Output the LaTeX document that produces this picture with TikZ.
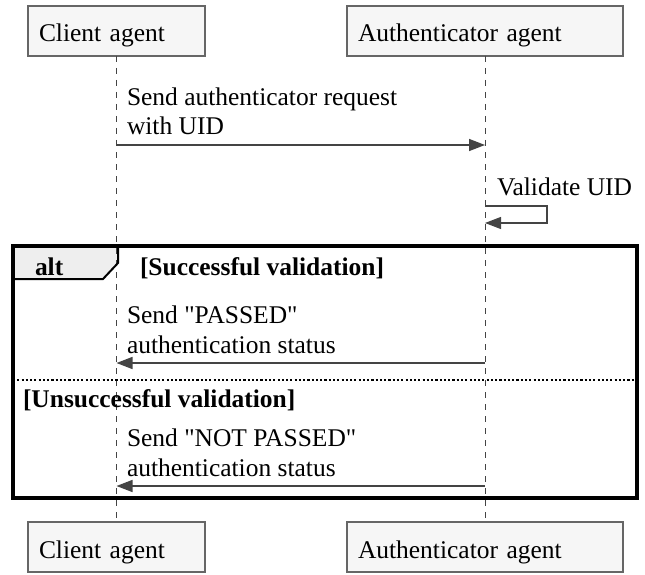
\documentclass[tikz,border=0pt]{standalone}
\usepackage{fontspec}
\setmainfont{Liberation Serif}[Ligatures=TeXOff]
\usetikzlibrary{arrows.meta}
\definecolor{boxfill}{HTML}{F6F6F6}
\definecolor{boxline}{HTML}{666666}
\definecolor{msgcol}{HTML}{444444}
\definecolor{tabfill}{HTML}{EEEEEE}
\begin{document}
\begin{tikzpicture}[x=0.75pt,y=-0.75pt,
  every node/.style={font=\fontsize{19.1}{22.1}\selectfont, inner sep=0pt, outer sep=0pt},
  actor/.style={draw=boxline, fill=boxfill, line width=0.8pt, inner xsep=8.25pt,
    text height=27pt, text depth=10.5pt, align=left},
  lifeline/.style={draw=msgcol, line width=0.75pt, dash pattern=on 4.5pt off 4.5pt},
  msgline/.style={draw=msgcol, line width=1.1pt, -{Triangle[length=12pt,width=9pt]}},
  selfline/.style={draw=msgcol, line width=0.8pt, -{Triangle[length=12pt,width=9pt]}},
  frameline/.style={draw=black, line width=2.4pt},
  sepline/.style={draw=black, line width=0.8pt, dash pattern=on 1.6pt off 1.6pt},
  lbl/.style={anchor=base west, align=left},
  bold/.style={anchor=base west, font=\fontsize{19.1}{22.1}\selectfont\bfseries}
]
\useasboundingbox (0,0) rectangle (645,574);

% participants
\node[actor, text width=116.25pt] (ca) at (116.5,31) {Client agent};
\node[actor, text width=190.5pt] (aa) at (485,31) {Authenticator agent};
\node[actor, text width=116.25pt] (cb) at (116.5,547) {Client agent};
\node[actor, text width=190.5pt] (ab) at (485,547) {Authenticator agent};

% alt frame
\coordinate (ftl) at (13,246);
\coordinate (fbr) at (637,498);
\fill[tabfill] (13,246) -- (118,246) -- (118,263) -- (103,279) -- (13,279) -- cycle;

% lifelines
\draw[lifeline] (ca.south) -- (cb.north);
\draw[lifeline] (aa.south) -- (ab.north);

\draw[frameline] (ftl) rectangle (fbr);
\draw[draw=black, line width=1.5pt] (118,246) -- (118,263) -- (103,279) -- (13,279);
\node[bold] (alt) at (35,275) {alt};
\node[bold] (cond1) at (140,275) {[Successful validation]};

% message 1 (anchor is baseline of last line)
\coordinate (y1) at (0,145);
\node[lbl] (l1) at (127,135) {Send authenticator request\\with UID};
\draw[msgline] (ca |- y1) -- (aa |- y1);

% self message
\node[lbl] (l2) at (497,195) {Validate UID};
\coordinate (s1) at (485,206);
\coordinate (s2) at (547,206);
\coordinate (s3) at (547,223);
\coordinate (s4) at (485,223);
\draw[selfline] (s1) -- (s2) -- (s3) -- (s4);

% message 2
\coordinate (y2) at (0,363);
\node[lbl] (l3) at (127,353) {Send "PASSED"\\authentication status};
\draw[msgline] (aa |- y2) -- (ca |- y2);

% separator
\coordinate (sepL) at (13,380);
\coordinate (sepR) at (637,380);
\draw[sepline] (sepL) -- (sepR);
\node[bold] (cond2) at (23,407) {[Unsuccessful validation]};

% message 3
\coordinate (y3) at (0,486);
\node[lbl] (l4) at (127,476) {Send "NOT PASSED"\\authentication status};
\draw[msgline] (aa |- y3) -- (ca |- y3);
\end{tikzpicture}
\end{document}
